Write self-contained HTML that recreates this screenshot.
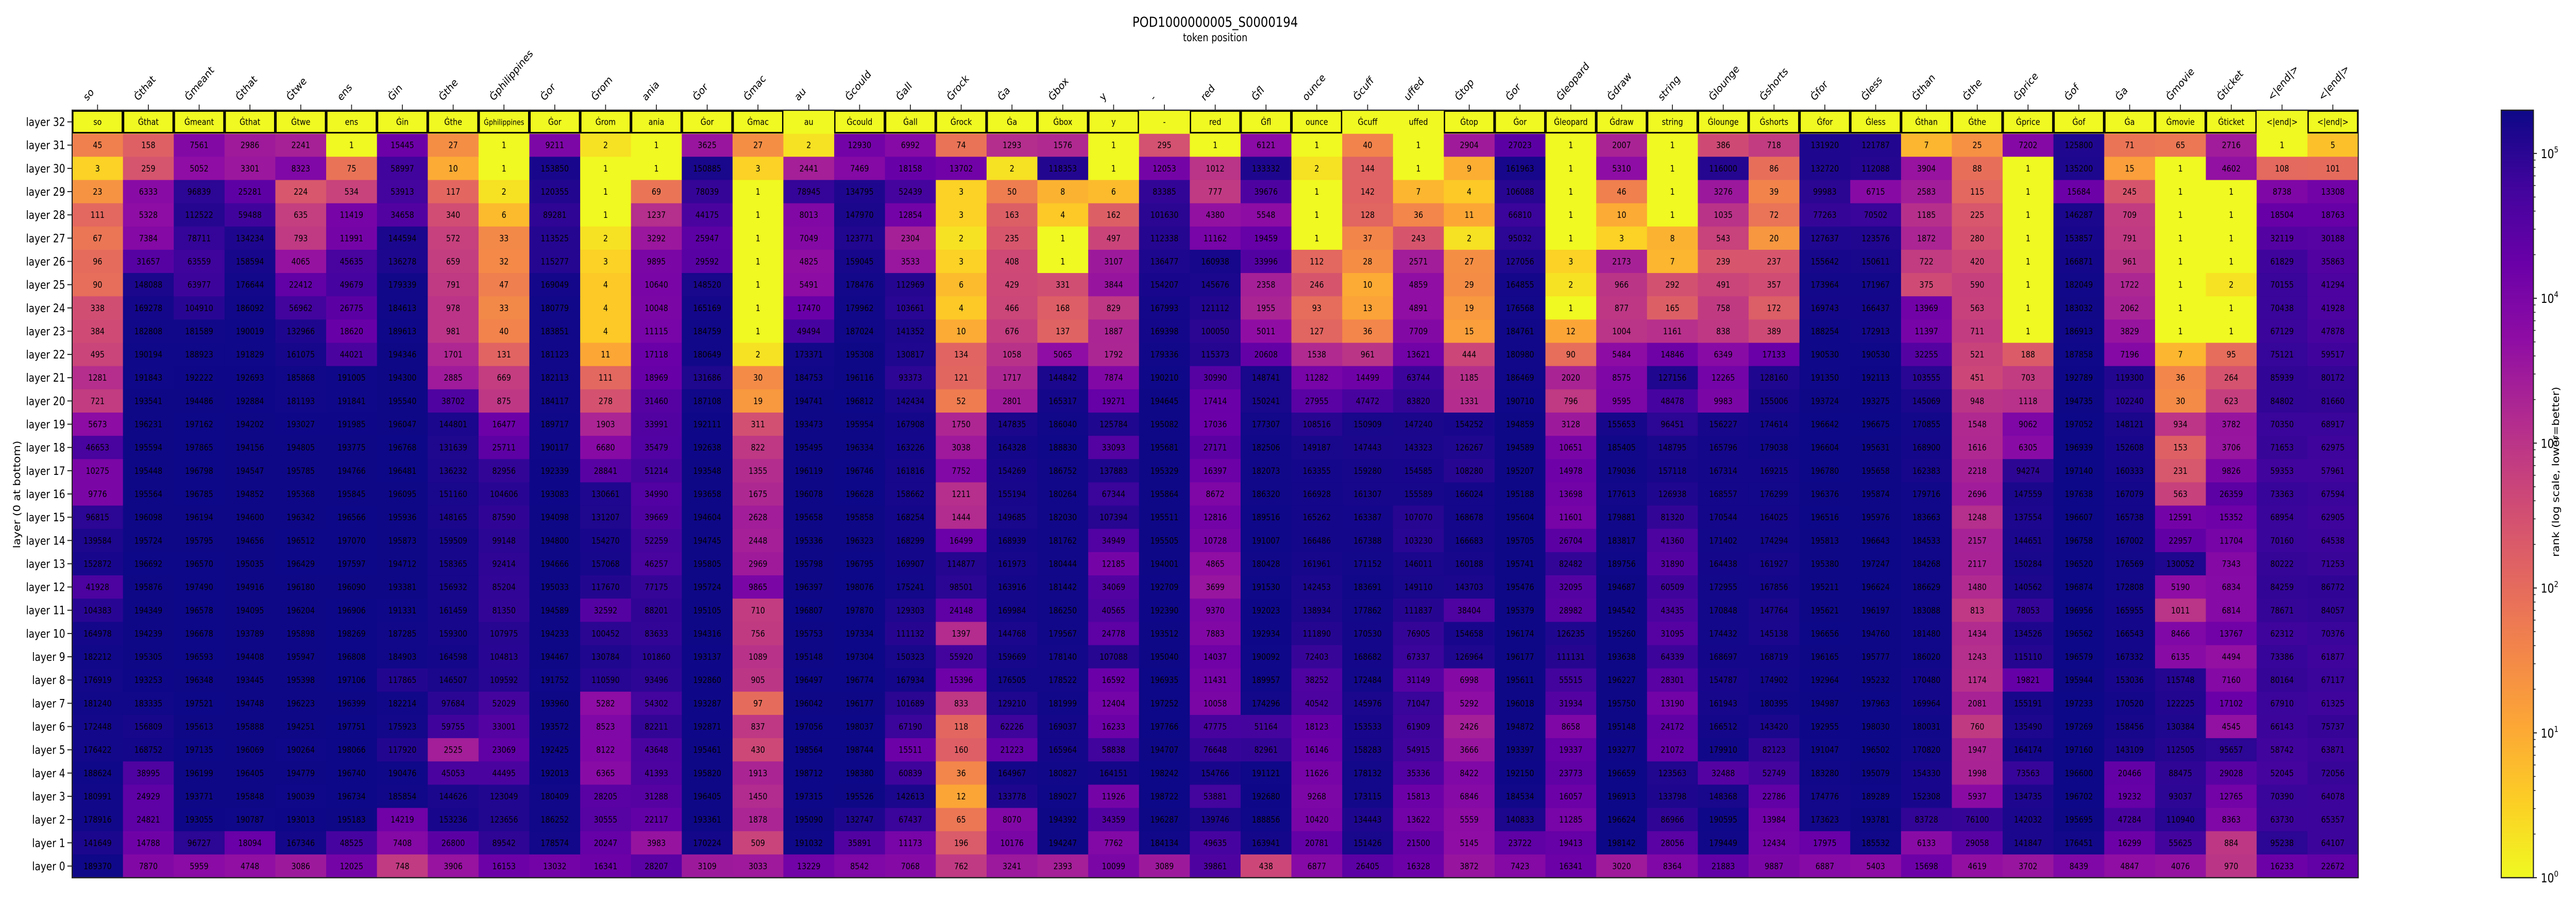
<!DOCTYPE html>
<html><head><meta charset="utf-8"><title>POD1000000005_S0000194</title>
<style>
html,body{margin:0;padding:0;background:#fff;width:100vw;height:100vh;overflow:hidden;}
svg{display:block;font-family:"DejaVu Sans","Liberation Sans",sans-serif;overflow:hidden;width:100vw;height:100vh;}
</style></head>
<body>
<svg id="chart" viewBox="0 0 5927 1757" preserveAspectRatio="none" xmlns="http://www.w3.org/2000/svg">
<rect x="0" y="0" width="5927" height="1757" fill="#ffffff"/>
<text x="2796" y="52" font-size="27" text-anchor="middle">POD1000000005_S0000194</text>
<text x="2796" y="80" font-size="21" text-anchor="middle">token position</text>
<text x="0" y="0" font-size="22" text-anchor="middle" transform="translate(46,960) rotate(-90)">layer (0 at bottom)</text>
<text x="0" y="0" font-size="22" text-anchor="middle" transform="translate(5888,916) rotate(-90)">rank (log scale, lower=better)</text>
<defs><linearGradient id="cbgrad" x1="0" y1="1" x2="0" y2="0"></linearGradient></defs>
<g id="cells"></g>
<g id="header"></g>
<g id="xticks"></g>
<g id="yticks"></g>
<g id="colorbar"></g>
</svg>
<script>
const tokens = ["so","Ġthat","Ġmeant","Ġthat","Ġtwe","ens","Ġin","Ġthe","Ġphilippines","Ġor","Ġrom","ania","Ġor","Ġmac","au",
"Ġcould","Ġall","Ġrock","Ġa","Ġbox","y","-","red","Ġfl","ounce","Ġcuff","uffed","Ġtop","Ġor","Ġleopard",
"Ġdraw","string","Ġlounge","Ġshorts","Ġfor","Ġless","Ġthan","Ġthe","Ġprice","Ġof","Ġa","Ġmovie","Ġticket","<|end|>","<|end|>"];
const headerBoxed = [1,1,1,1,1,1,1,1,1,1,1,1,1,1,0, 1,1,1,1,1,1,0,1,1,1,0,0,1,1,1, 1,1,1,1,1,1,1,1,1,1,1,1,1,0,1];
const layerLabels = ["layer 32","layer 31","layer 30","layer 29","layer 28","layer 27","layer 26","layer 25","layer 24","layer 23","layer 22","layer 21","layer 20","layer 19","layer 18","layer 17","layer 16","layer 15","layer 14","layer 13","layer 12","layer 11","layer 10","layer 9","layer 8","layer 7","layer 6","layer 5","layer 4","layer 3","layer 2","layer 1","layer 0"];
const layer31 = [45,158,7561,2986,2241,1,15445,27,1,9211,2,1,3625,27,2, 12930,6992,74,1293,1576,1,295,1,6121,1,40,1,2904,27023,1, 2007,1,386,718,131920,121787,7,25,7202,125800,71,65,2716,1,5];
const layer30 = [3,259,5052,3301,8323,75,58997,10,1,153850,1,1,150885,3,2441, 7469,18158,13702,2,118353,1,12053,1012,133332,2,144,1,9,161963,1, 5310,1,116000,86,132720,112088,3904,88,1,135200,15,1,4602,108,101];
const layer29 = [23,6333,96839,25281,224,534,53913,117,2,120355,1,69,78039,1,78945, 134795,52439,3,50,8,6,83385,777,39676,1,142,7,4,106088,1, 46,1,3276,39,99983,6715,2583,115,1,15684,245,1,1,8738,13308];
const layer28 = [111,5328,112522,59488,635,11419,34658,340,6,89281,1,1237,44175,1,8013, 147970,12854,3,163,4,162,101630,4380,5548,1,128,36,11,66810,1, 10,1,1035,72,77263,70502,1185,225,1,146287,709,1,1,18504,18763];
const layer27 = [67,7384,78711,134234,793,11991,144594,572,33,113525,2,3292,25947,1,7049, 123771,2304,2,235,1,497,112338,11162,19459,1,37,243,2,95032,1, 3,8,543,20,127637,123576,1872,280,1,153857,791,1,1,32119,30188];
const layer26 = [96,31657,63559,158594,4065,45635,136278,659,32,115277,3,9895,29592,1,4825, 159045,3533,3,408,1,3107,136477,160938,33996,112,28,2571,27,127056,3, 2173,7,239,237,155642,150611,722,420,1,166871,961,1,1,61829,35863];
const layer25 = [90,148088,63977,176644,22412,49679,179339,791,47,169049,4,10640,148520,1,5491, 178476,112969,6,429,331,3844,154207,145676,2358,246,10,4859,29,164855,2, 966,292,491,357,173964,171967,375,590,1,182049,1722,1,2,70155,41294];
const layer24 = [338,169278,104910,186092,56962,26775,184613,978,33,180779,4,10048,165169,1,17470, 179962,103661,4,466,168,829,167993,121112,1955,93,13,4891,19,176568,1, 877,165,758,172,169743,166437,13969,563,1,183032,2062,1,1,70438,41928];
const layer23 = [384,182808,181589,190019,132966,18620,189613,981,40,183851,4,11115,184759,1,49494, 187024,141352,10,676,137,1887,169398,100050,5011,127,36,7709,15,184761,12, 1004,1161,838,389,188254,172913,11397,711,1,186913,3829,1,1,67129,47878];
const layer22 = [495,190194,188923,191829,161075,44021,194346,1701,131,181123,11,17118,180649,2,173371, 195308,130817,134,1058,5065,1792,179336,115373,20608,1538,961,13621,444,180980,90, 5484,14846,6349,17133,190530,190530,32255,521,188,187858,7196,7,95,75121,59517];
const layer21 = [1281,191843,192222,192693,185868,191005,194300,2885,669,182113,111,18969,131686,30,184753, 196116,93373,121,1717,144842,7874,190210,30990,148741,11282,14499,63744,1185,186469,2020, 8575,127156,12265,128160,191350,192113,103555,451,703,192789,119300,36,264,85939,80172];
const layer20 = [721,193541,194486,192884,181193,191841,195540,38702,875,184117,278,31460,187108,19,194741, 196812,142434,52,2801,165317,19271,194645,17414,150241,27955,47472,83820,1331,190710,796, 9595,48478,9983,155006,193724,193275,145069,948,1118,194735,102240,30,623,84802,81660];
const layer19 = [5673,196231,197162,194202,193027,191985,196047,144801,16477,189717,1903,33991,192111,311,193473, 195954,167908,1750,147835,186040,125784,195082,17036,177307,108516,150909,147240,154252,194859,3128, 155653,96451,156227,174614,196642,196675,170855,1548,9062,197052,148121,934,3782,70350,68917];
const layer18 = [46653,195594,197865,194156,194805,193775,196768,131639,25711,190117,6680,35479,192638,822,195495, 196334,163226,3038,164328,188830,33093,195681,27171,182506,149187,147443,143323,126267,194589,10651, 185405,148795,165796,179038,196604,195631,168900,1616,6305,196939,152608,153,3706,71653,62975];
const layer17 = [10275,195448,196798,194547,195785,194766,196481,136232,82956,192339,28841,51214,193548,1355,196119, 196746,161816,7752,154269,186752,137883,195329,16397,182073,163355,159280,154585,108280,195207,14978, 179036,157118,167314,169215,196780,195658,162383,2218,94274,197140,160333,231,9826,59353,57961];
const layer16 = [9776,195564,196785,194852,195368,195845,196095,151160,104606,193083,130661,34990,193658,1675,196078, 196628,158662,1211,155194,180264,67344,195864,8672,186320,166928,161307,155589,166024,195188,13698, 177613,126938,168557,176299,196376,195874,179716,2696,147559,197638,167079,563,26359,73363,67594];
const layer15 = [96815,196098,196194,194600,196342,196566,195936,148165,87590,194098,131207,39669,194604,2628,195658, 195858,168254,1444,149685,182030,107394,195511,12816,189516,165262,163387,107070,168678,195604,11601, 179881,81320,170544,164025,196516,195976,183663,1248,137554,196607,165738,12591,15352,68954,62905];
const layer14 = [139584,195724,195795,194656,196512,197070,195873,159509,99148,194800,154270,52259,194745,2448,195336, 196323,168299,16499,168939,181762,34949,195505,10728,191007,166486,167388,103230,166683,195705,26704, 183817,41360,171402,174294,195813,196643,184533,2157,144651,196758,167002,22957,11704,70160,64538];
const layer13 = [152872,196692,196570,195035,196429,197597,194712,158365,92414,194666,157068,46257,195805,2969,195798, 196795,169907,114877,161973,180444,12185,194001,4865,180428,161961,171152,146011,160188,195741,82482, 189756,31890,164438,161927,195380,197247,184268,2117,150284,196520,176569,130052,7343,80222,71253];
const layer12 = [41928,195876,197490,194916,196180,196090,193381,156932,85204,195033,117670,77175,195724,9865,196397, 198076,175241,98501,163916,181442,34069,192709,3699,191530,142453,183691,149110,143703,195476,32095, 194687,60509,172955,167856,195211,196624,186629,1480,140562,196874,172808,5190,6834,84259,86772];
const layer11 = [104383,194349,196578,194095,196204,196906,191331,161459,81350,194589,32592,88201,195105,710,196807, 197870,129303,24148,169984,186250,40565,192390,9370,192023,138934,177862,111837,38404,195379,28982, 194542,43435,170848,147764,195621,196197,183088,813,78053,196956,165955,1011,6814,78671,84057];
const layer10 = [164978,194239,196678,193789,195898,198269,187285,159300,107975,194233,100452,83633,194316,756,195753, 197334,111132,1397,144768,179567,24778,193512,7883,192934,111890,170530,76905,154658,196174,126235, 195260,31095,174432,145138,196656,194760,181480,1434,134526,196562,166543,8466,13767,62312,70376];
const layer9 = [182212,195305,196593,194408,195947,196808,184903,164598,104813,194467,130784,101860,193137,1089,195148, 197304,150323,55920,159669,178140,107088,195040,14037,190092,72403,168682,67337,126964,196177,111131, 193638,64339,168697,168719,196165,195777,186020,1243,115110,196579,167332,6135,4494,73386,61877];
const layer8 = [176919,193253,196348,193445,195398,197106,117865,146507,109592,191752,110590,93496,192860,905,196497, 196774,167934,15396,176505,178522,16592,196935,11431,189957,38252,172484,31149,6998,195611,55515, 196227,28301,154787,174902,192964,195232,170480,1174,19821,195944,153036,115748,7160,80164,67117];
const layer7 = [181240,183335,197521,194748,196223,196399,182214,97684,52029,193960,5282,54302,193287,97,196042, 196177,101689,833,129210,181999,12404,197252,10058,174296,40542,145976,71047,5292,196018,31934, 195750,13190,161943,180395,194987,197963,169964,2081,155191,197233,170520,122225,17102,67910,61325];
const layer6 = [172448,156809,195613,195888,194251,197751,175923,59755,33001,193572,8523,82211,192871,837,197056, 198037,67190,118,62226,169037,16233,197766,47775,51164,18123,153533,61909,2426,194872,8658, 195148,24172,166512,143420,192955,198030,180031,760,135490,197269,158456,130384,4545,66143,75737];
const layer5 = [176422,168752,197135,196069,190264,198066,117920,2525,23069,192425,8122,43648,195461,430,198564, 198744,15511,160,21223,165964,58838,194707,76648,82961,16146,158283,54915,3666,193397,19337, 193277,21072,179910,82123,191047,196502,170820,1947,164174,197160,143109,112505,95657,58742,63871];
const layer4 = [188624,38995,196199,196405,194779,196740,190476,45053,44495,192013,6365,41393,195820,1913,198712, 198380,60839,36,164967,180827,164151,198242,154766,191121,11626,178132,35336,8422,192150,23773, 196659,123563,32488,52749,183280,195079,154330,1998,73563,196600,20466,88475,29028,52045,72056];
const layer3 = [180991,24929,193771,195848,190039,196734,185854,144626,123049,180409,28205,31288,196405,1450,197315, 195526,142613,12,133778,189027,11926,198722,53881,192680,9268,173115,15813,6846,184534,16057, 196913,133798,148368,22786,174776,189289,152308,5937,134735,196702,19232,93037,12765,70390,64078];
const layer2 = [178916,24821,193055,190787,193013,195183,14219,153236,123656,186252,30555,22117,193361,1878,195090, 132747,67437,65,8070,194392,34359,196287,139746,188856,10420,134443,13622,5559,140833,11285, 196624,86966,190595,13984,173623,193781,83728,76100,142032,195695,47284,110940,8363,63730,65357];
const layer1 = [141649,14788,96727,18094,167346,48525,7408,26800,89542,178574,20247,3983,170224,509,191032, 35891,11173,196,10176,194247,7762,184134,49635,163941,20781,151426,21500,5145,23722,19413, 198142,28056,179449,12434,17975,185532,6133,29058,141847,176451,16299,55625,884,95238,64107];
const layer0 = [189370,7870,5959,4748,3086,12025,748,3906,16153,13032,16341,28207,3109,3033,13229, 8542,7068,762,3241,2393,10099,3089,39861,438,6877,26405,16328,3872,7423,16341, 3020,8364,21883,9887,6887,5403,15698,4619,3702,8439,4847,4076,970,16233,22672];
const rankRows = [layer31,layer30,layer29,layer28,layer27,layer26,layer25,layer24,layer23,layer22,layer21,layer20,layer19,layer18,layer17,layer16,layer15,layer14,layer13,layer12,layer11,layer10,layer9,layer8,layer7,layer6,layer5,layer4,layer3,layer2,layer1,layer0];
const cbTickExps = [0,1,2,3,4,5];

const NS = "http://www.w3.org/2000/svg";
const X0 = 166, X1 = 5426, Y0 = 214, Y1 = 1704;
const nCols = tokens.length, nRows = layerLabels.length;
const colW = (X1 - X0) / nCols, rowH = (Y1 - Y0) / nRows;
let vmax = 1;
rankRows.forEach(r => r.forEach(v => { if (v > vmax) vmax = v; }));
const logMax = Math.log10(vmax);
const xOf = c => X0 + c * colW;
const yOf = r => Y0 + r * rowH;

const plasmaStops = ["#0d0887","#41049d","#6a00a8","#8f0da4","#b12a90","#cc4778","#e16462","#f2844b","#fca636","#fcce25","#f0f921"];
function hex2rgb(h){return [parseInt(h.slice(1,3),16),parseInt(h.slice(3,5),16),parseInt(h.slice(5,7),16)];}
function plasma(t){
  t = Math.max(0, Math.min(1, t));
  const p = t * (plasmaStops.length - 1), i = Math.min(Math.floor(p), plasmaStops.length - 2), f = p - i;
  const a = hex2rgb(plasmaStops[i]), b = hex2rgb(plasmaStops[i + 1]);
  return "rgb(" + a.map((v, k) => Math.round(v + (b[k] - v) * f)).join(",") + ")";
}
const colorOf = v => plasma(1 - Math.log10(Math.max(v, 1)) / logMax);

function mk(tag, attrs, parent){
  const e = document.createElementNS(NS, tag);
  for (const k in attrs) e.setAttribute(k, attrs[k]);
  parent.appendChild(e);
  return e;
}

const cells = document.getElementById("cells");
rankRows.forEach((row, ri) => {
  const r = ri + 1;
  row.forEach((v, c) => {
    const rect = mk("rect", {x: xOf(c), y: yOf(r), width: colW + 0.6, height: rowH + 0.6, fill: colorOf(v)}, cells);
    
    
    const t = mk("text", {x: xOf(c) + colW / 2, y: yOf(r) + rowH / 2 + 6, "font-size": 17, "text-anchor": "middle", fill: "#000"}, cells);
    
    
    t.textContent = v;
  });
});

const header = document.getElementById("header");
tokens.forEach((tok, c) => {
  const rect = mk("rect", {x: xOf(c), y: Y0, width: colW + 0.6, height: rowH + 0.6, fill: colorOf(1)}, header);
  
  
  const t = mk("text", {x: xOf(c) + colW / 2, y: Y0 + rowH / 2 + 6, "font-size": tok.length > 9 ? 15 : 17, "text-anchor": "middle", fill: "#000"}, header);
  
  
  t.textContent = tok;
});
tokens.forEach((tok, c) => {
  if (headerBoxed[c]) {
    const b = mk("rect", {x: xOf(c) + 1.5, y: Y0 + 1.5, width: colW - 3, height: rowH - 3, fill: "none", stroke: "#000", "stroke-width": 3}, header);
    
    
  }
});

const frame = mk("rect", {x: X0, y: Y0, width: X1 - X0, height: Y1 - Y0, fill: "none", stroke: "#222", "stroke-width": 2.5}, cells.parentNode);



const xt = document.getElementById("xticks");
tokens.forEach((tok, c) => {
  const cx = xOf(c) + colW / 2;
  const tk = mk("line", {x1: cx, y1: Y0 - 11, x2: cx, y2: Y0, stroke: "#222", "stroke-width": 2}, xt);
  
  
  const lx = cx - 24, ly = Y0 - 17;
  const t = mk("text", {x: lx, y: ly, "font-size": 21, transform: "rotate(-45 " + lx + " " + ly + ")"}, xt);
  
  
  t.textContent = tok;
});

const yt = document.getElementById("yticks");
layerLabels.forEach((lab, r) => {
  const cy = yOf(r) + rowH / 2;
  const tk = mk("line", {x1: X0 - 11, y1: cy, x2: X0, y2: cy, stroke: "#222", "stroke-width": 2}, yt);
  
  
  const t = mk("text", {x: X0 - 16, y: cy + 8, "font-size": 22, "text-anchor": "end"}, yt);
  
  
  t.textContent = lab;
});

const grad = document.getElementById("cbgrad");
for (let i = 0; i <= 20; i++) {
  mk("stop", {offset: (i / 20), "stop-color": plasma(1 - i / 20)}, grad);
}
const CB0 = 5755, CB1 = 5829;
const cb = document.getElementById("colorbar");
const cbr = mk("rect", {x: CB0, y: Y0, width: CB1 - CB0, height: Y1 - Y0, fill: "url(#cbgrad)", stroke: "#222", "stroke-width": 2.5}, cb);


const cbY = v => Y1 - (Math.log10(v) / logMax) * (Y1 - Y0);
cbTickExps.forEach(e => {
  const y = cbY(Math.pow(10, e));
  const tk = mk("line", {x1: CB1, y1: y, x2: CB1 + 8, y2: y, stroke: "#222", "stroke-width": 2}, cb);
  
  
  const t = mk("text", {x: CB1 + 17, y: y + 9, "font-size": 24}, cb);
  
  
  t.textContent = "10";
  const sup = mk("tspan", {dy: -11, "font-size": 16}, t);
  sup.textContent = String(e);
  for (let m = 2; m <= 9; m++) {
    const v = m * Math.pow(10, e);
    if (v > vmax) break;
    const my = cbY(v);
    const mt = mk("line", {x1: CB1, y1: my, x2: CB1 + 5, y2: my, stroke: "#222", "stroke-width": 1.5}, cb);
    
    
  }
});
</script>
</body></html>
